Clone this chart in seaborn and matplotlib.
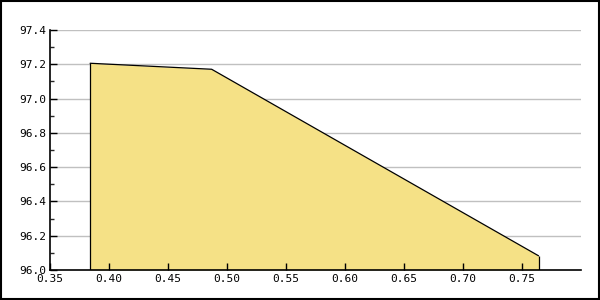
import matplotlib
matplotlib.use("Agg")
import matplotlib.pyplot as plt
import seaborn as sns
import pandas as pd
from matplotlib.ticker import MultipleLocator, FixedLocator, FormatStrFormatter

x_vals = [0.384, 0.487, 0.764]
y_vals = [97.206, 97.171, 96.083]
x_ticks = [0.35, 0.40, 0.45, 0.50, 0.55, 0.60, 0.65, 0.70, 0.75]
y_ticks = [96.0, 96.2, 96.4, 96.6, 96.8, 97.0, 97.2, 97.4]

df = pd.DataFrame({"x": x_vals, "y": y_vals})

sns.set_style("white")
plt.rcParams['font.family'] = ['DejaVu Sans Mono', 'DejaVu Sans']

fig = plt.figure(figsize=(6, 3), dpi=100)
ax = fig.add_axes([50/600, 30/300, 531/600, 240/300])

for yt in y_ticks[1:]:
    ax.axhline(yt, color="#c0c0c0", linewidth=1.0, zorder=1)

ax.fill_between(df["x"], df["y"], 96.0, color="#f5e186", linewidth=0, zorder=2)
sns.lineplot(data=df, x="x", y="y", ax=ax, color="black", linewidth=0.9, zorder=3)
ax.vlines([x_vals[0], x_vals[-1]], 96.0, [y_vals[0], y_vals[-1]], color="black", linewidth=0.9, zorder=3)

ax.set_xlim(0.35, 0.80)
ax.set_ylim(96.0, 97.4)
ax.xaxis.set_major_locator(FixedLocator(x_ticks))
ax.yaxis.set_major_locator(FixedLocator(y_ticks))
ax.yaxis.set_minor_locator(MultipleLocator(0.1))
ax.xaxis.set_major_formatter(FormatStrFormatter('%.2f'))
ax.yaxis.set_major_formatter(FormatStrFormatter('%.1f'))
ax.set_xlabel("")
ax.set_ylabel("")

ax.grid(False)
ax.set_axisbelow(False)
ax.tick_params(axis="both", which="major", direction="in", length=5, width=1, labelsize=8, colors="black", pad=3, left=True, bottom=True)
ax.tick_params(axis="y", which="minor", direction="in", length=3, width=1, left=True)
for s in ["top", "right"]:
    ax.spines[s].set_visible(False)
for s in ["left", "bottom"]:
    ax.spines[s].set_color("black")
    ax.spines[s].set_linewidth(1.2)
    ax.spines[s].set_zorder(4)

fig.patches.append(plt.Rectangle((0.0015, 0.003), 0.997, 0.994, transform=fig.transFigure,
                                 fill=False, edgecolor="black", linewidth=1.5))

fig.savefig("out.png", dpi=100)
